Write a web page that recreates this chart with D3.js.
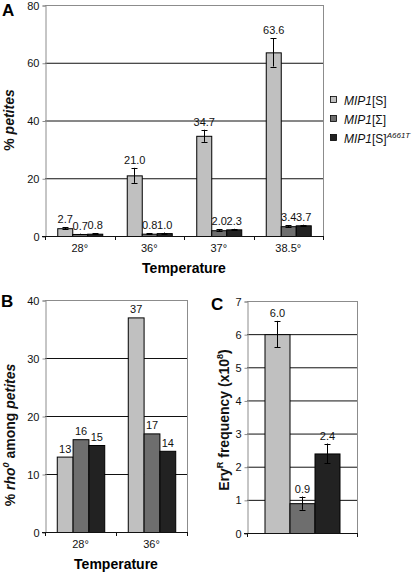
<!DOCTYPE html>
<html><head><meta charset="utf-8">
<script src="https://cdn.jsdelivr.net/npm/d3@7"></script>
<style>
html,body{margin:0;padding:0;background:#fff;}
svg{display:block;font-family:"Liberation Sans",Arial,sans-serif;}
</style></head>
<body>
<script>
// ---------- DATA ----------
const seriesNames = ["MIP1[S]", "MIP1[Σ]", "MIP1[S]A661T"];
const colors = ["#c0c0c0", "#6e6e6e", "#222222"];

// Panel A
const tempsA = ["28°", "36°", "37°", "38.5°"];
const valuesA_S = [2.7, 21.0, 34.7, 63.6];
const valuesA_Sigma = [0.7, 0.8, 2.0, 3.4];
const valuesA_A661T = [0.8, 1.0, 2.3, 3.7];
const errA_S = [0.4, 2.6, 2.1, 4.9];
const errA_Sigma = [0.1, 0.2, 0.3, 0.3];
const errA_A661T = [0.1, 0.2, 0.2, 0.2];
const ticksA = [0, 20, 40, 60, 80];

// Panel B
const tempsB = ["28°", "36°"];
const valuesB_S = [13, 37];
const valuesB_Sigma = [16, 17];
const valuesB_A661T = [15, 14];
const ticksB = [0, 10, 20, 30, 40];

// Panel C
const valuesC = [6.0, 0.9, 2.4];
const errC = [0.4, 0.2, 0.3];
const ticksC = [0, 1, 2, 3, 4, 5, 6, 7];

// ---------- DRAW ----------
const svg = d3.select("body").append("svg").attr("width", 415).attr("height", 578);

function panel(opts) {
  const {x0, x1, y0, y1, cats, series, errs, ticks, max, fmt, showCats, barPad} = opts;
  const g = svg.append("g");
  const y = d3.scaleLinear().domain([0, max]).range([y1, y0]);
  const xb = d3.scaleBand().domain(d3.range(cats.length)).range([x0, x1]).paddingInner(0).paddingOuter(0);
  const xs = d3.scaleBand().domain(d3.range(series.length)).range([0, xb.bandwidth()]).paddingOuter(barPad).paddingInner(0);

  // gridlines
  g.selectAll("line.grid").data(ticks.filter(t => t > 0)).join("line")
    .attr("x1", x0).attr("x2", x1)
    .attr("y1", d => y(d) + 0.5).attr("y2", d => y(d) + 0.5)
    .attr("stroke", d => d === max ? "#8c8c8c" : "#111").attr("stroke-width", 1);
  // right border
  g.append("line").attr("x1", x1 + 0.5).attr("x2", x1 + 0.5).attr("y1", y0).attr("y2", y1)
    .attr("stroke", "#8c8c8c");

  // bars
  series.forEach((vals, si) => {
    g.selectAll(null).data(vals).join("rect")
      .attr("x", (d, i) => xb(i) + xs(si) + 0.5)
      .attr("y", d => y(d) + 0.5)
      .attr("width", xs.bandwidth())
      .attr("height", d => y(0) - y(d))
      .attr("fill", colors[si]).attr("stroke", "#000").attr("stroke-width", 1);
  });
  // error bars
  if (errs) {
    series.forEach((vals, si) => {
      vals.forEach((v, i) => {
        const cx = Math.round(xb(i) + xs(si) + xs.bandwidth() / 2) + 0.5;
        const e = errs[si][i];
        const ya = y(v + e), yb = y(v - e);
        g.append("line").attr("x1", cx).attr("x2", cx).attr("y1", ya).attr("y2", yb).attr("stroke", "#000");
        [ya, yb].forEach(yy => g.append("line").attr("x1", cx - 3).attr("x2", cx + 3)
          .attr("y1", Math.round(yy) + 0.5).attr("y2", Math.round(yy) + 0.5).attr("stroke", "#000"));
      });
    });
  }
  // value labels
  series.forEach((vals, si) => {
    g.selectAll(null).data(vals).join("text")
      .attr("x", (d, i) => xb(i) + xs(si) + xs.bandwidth() / 2 + 0.5)
      .attr("y", (d, i) => y(d + (errs ? errs[si][i] : 0)) - 4)
      .attr("text-anchor", "middle").attr("font-size", 11).attr("fill", "#111")
      .text(d => fmt(d));
  });

  // y axis
  const ya = d3.axisLeft(y).tickValues(ticks).tickSize(3).tickFormat(d3.format("d"));
  const ag = g.append("g").attr("transform", `translate(${x0 + 0.5},0.5)`).call(ya);
  ag.select(".domain").attr("stroke", "#8c8c8c");
  ag.selectAll(".tick line").attr("stroke", "#8c8c8c");
  ag.selectAll(".tick text").attr("font-size", 11).attr("fill", "#111").attr("x", -6)
    .attr("font-family", "Liberation Sans, Arial, sans-serif");

  // x axis
  g.append("line").attr("x1", x0 - 3).attr("x2", x1 + 1).attr("y1", y1 + 0.5).attr("y2", y1 + 0.5).attr("stroke", "#111");
  const bounds = d3.range(cats.length + 1).map(i => x0 + i * xb.bandwidth());
  g.selectAll(null).data(bounds).join("line")
    .attr("x1", d => Math.round(d) + 0.5).attr("x2", d => Math.round(d) + 0.5)
    .attr("y1", y1).attr("y2", y1 + 4).attr("stroke", "#111");
  if (showCats) {
    g.selectAll(null).data(cats).join("text")
      .attr("x", (d, i) => xb(i) + xb.bandwidth() / 2)
      .attr("y", y1 + 16).attr("text-anchor", "middle").attr("font-size", 11).attr("fill", "#111")
      .text(d => d);
    g.append("text").attr("x", (x0 + x1) / 2).attr("y", y1 + 37)
      .attr("text-anchor", "middle").attr("font-size", 14).attr("font-weight", "bold").text("Temperature");
  }
  return {g, y};
}

const fmt1 = d3.format(".1f");
const fmt0 = d3.format("d");

const A = panel({x0: 45, x1: 323, y0: 5, y1: 236, cats: tempsA,
  series: [valuesA_S, valuesA_Sigma, valuesA_A661T], errs: [errA_S, errA_Sigma, errA_A661T],
  ticks: ticksA, max: 80, fmt: fmt1, showCats: true, barPad: 0.5 * (69.5 - 45) / 15});
const B = panel({x0: 45, x1: 187, y0: 300, y1: 532, cats: tempsB,
  series: [valuesB_S, valuesB_Sigma, valuesB_A661T], errs: null,
  ticks: ticksB, max: 40, fmt: fmt0, showCats: true, barPad: 0.5 * (71 - 47.5) / 15.8});
const C = panel({x0: 247, x1: 357, y0: 301, y1: 533, cats: [""],
  series: [[valuesC[0]], [valuesC[1]], [valuesC[2]]], errs: [[errC[0]], [errC[1]], [errC[2]]],
  ticks: ticksC, max: 7, fmt: fmt1, showCats: false, barPad: 0.5 * (110 - 75) / 25});

// panel letters
[["A", 2, 16], ["B", 1, 307], ["C", 211, 310]].forEach(([t, x, y]) =>
  svg.append("text").attr("x", x).attr("y", y).attr("font-size", 17).attr("font-weight", "bold").text(t));

// y titles
function ytitle(cx, cy, parts) {
  const t = svg.append("text").attr("transform", `translate(${cx},${cy}) rotate(-90)`)
    .attr("text-anchor", "middle").attr("font-size", 14).attr("font-weight", "bold").attr("fill", "#111");
  parts.forEach(p => {
    const ts = t.append("tspan").text(p.t);
    if (p.i) ts.attr("font-style", "italic");
    if (p.sup) ts.attr("font-size", 9).attr("dy", -6);
    if (p.down) ts.attr("dy", 6);
  });
}
ytitle(14, 120, [{t: "% "}, {t: "petites", i: true}]);
ytitle(15, 435, [{t: "% "}, {t: "rho", i: true}, {t: "0", i: true, sup: true}, {t: " among ", down: true}, {t: "petites", i: true}]);
ytitle(229, 420, [{t: "Ery"}, {t: "R", sup: true}, {t: " frequency (x10", down: true}, {t: "8", sup: true}, {t: ")", down: true}]);

// legend
const leg = svg.append("g");
const legY = [100, 119, 138];
seriesNames.forEach((n, i) => {
  leg.append("rect").attr("x", 330.5).attr("y", legY[i] - 3.5).attr("width", 6).attr("height", 6)
    .attr("fill", colors[i]).attr("stroke", "#000").attr("stroke-width", 0.8);
  const t = leg.append("text").attr("x", 344).attr("y", legY[i] + 4.5).attr("font-size", 12).attr("fill", "#111");
  t.append("tspan").attr("font-style", "italic").text("MIP1");
  const rest = n.slice(4);
  if (rest.includes("A661T")) {
    t.append("tspan").text(rest.replace("A661T", ""));
    t.append("tspan").attr("font-style", "italic").attr("font-size", 8).attr("dy", -5).text("A661T");
  } else {
    t.append("tspan").text(rest);
  }
});
</script>
</body></html>
